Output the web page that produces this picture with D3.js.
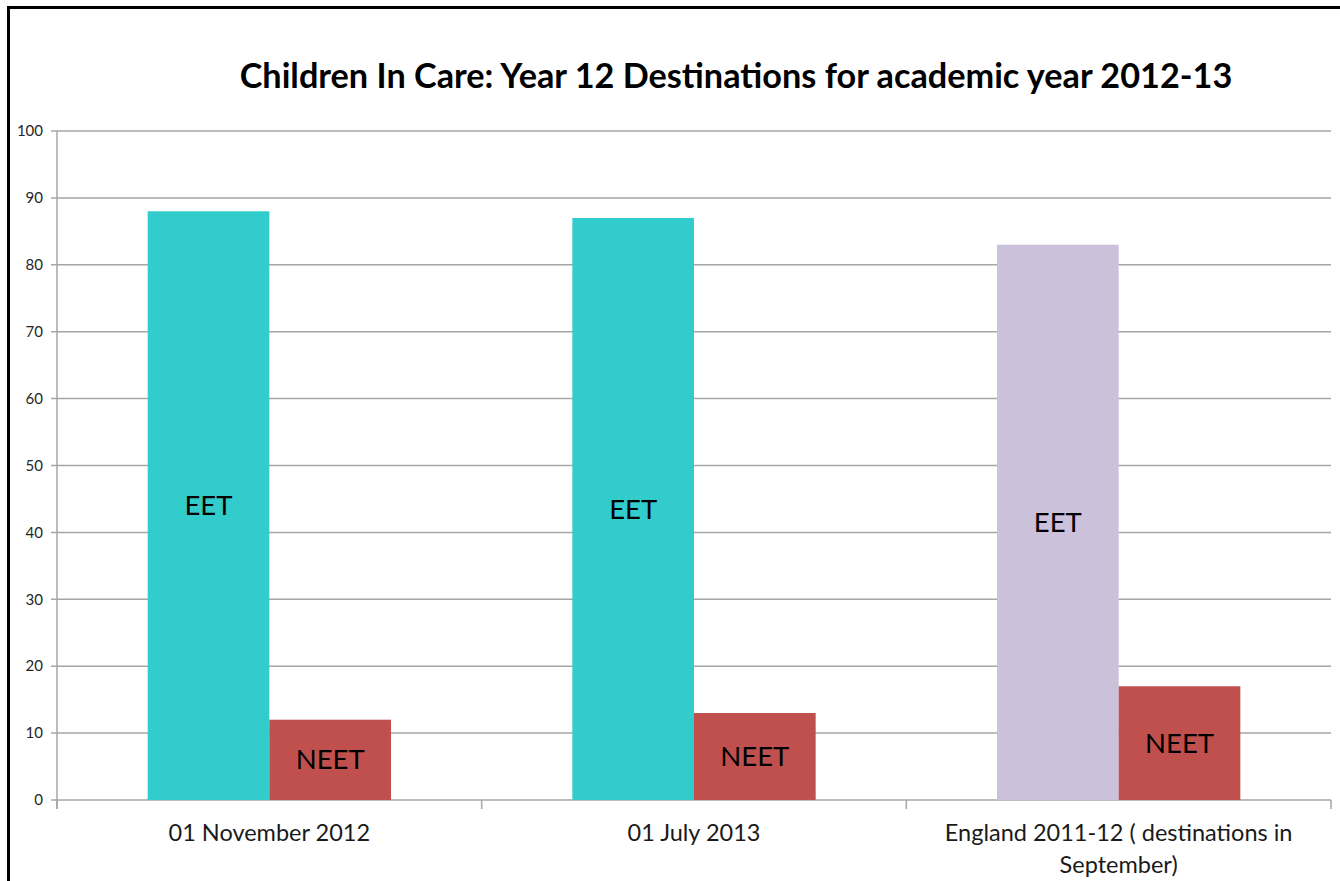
<!DOCTYPE html>
<html lang="en">
<head>
    <meta charset="UTF-8">
    <title>Children In Care: Year 12 Destinations</title>
    <script src="https://d3js.org/d3.v7.min.js"></script>
    <style>
        body { margin: 0; background: #fff; }
        text { font-family: Lato, "Open Sans", sans-serif; }
    </style>
</head>
<body>

<script>

    var width = 1340;
    var height = 881;

    // data
    var categories = ["01 November 2012", "01 July 2013", "England 2011-12 ( destinations in|September)"];
    var eetValues = [88, 87, 83];
    var neetValues = [12, 13, 17];
    var eetColors = ["#33CCCC", "#33CCCC", "#CCC1DA"];
    var yTicks = [0, 10, 20, 30, 40, 50, 60, 70, 80, 90, 100];
    var titleText = "Children In Care: Year 12 Destinations for academic year 2012-13";

    var margin = {left: 57, right: 9, top: 131, bottom: 81};

    var svg = d3.select("body")
        .append("svg")
        .attr("width", width)
        .attr("height", height);

    // outer frame
    svg.append("rect")
        .attr("x", 8.5).attr("y", 7.5)
        .attr("width", width + 10).attr("height", height + 10)
        .attr("fill", "none")
        .attr("stroke", "#000")
        .attr("stroke-width", 3);

    var xScale = d3.scaleBand()
        .domain(d3.range(categories.length))
        .range([margin.left, width - margin.right]);

    var yScale = d3.scaleLinear()
        .domain([0, 100])
        .range([height - margin.bottom, margin.top]);

    var bw = xScale.bandwidth() * 0.2865;
    var pad = (xScale.bandwidth() - 2 * bw) / 2;

    // gridlines
    svg.selectAll("line.grid").data(yTicks).enter().append("line")
        .attr("class", "grid")
        .attr("x1", margin.left - 6)
        .attr("x2", width - margin.right)
        .attr("y1", function (d) { return yScale(d); })
        .attr("y2", function (d) { return yScale(d); })
        .attr("stroke", "#a6a6a6")
        .attr("stroke-width", 1.5);

    // y axis line
    svg.append("line")
        .attr("x1", margin.left).attr("x2", margin.left)
        .attr("y1", yScale(100)).attr("y2", yScale(0) + 9)
        .attr("stroke", "#a6a6a6").attr("stroke-width", 1.5);

    // x category ticks
    var bounds = d3.range(categories.length + 1).map(function (i) {
        return margin.left + i * xScale.step();
    });
    svg.selectAll("line.xtick").data(bounds).enter().append("line")
        .attr("x1", function (d) { return d; })
        .attr("x2", function (d) { return d; })
        .attr("y1", yScale(0))
        .attr("y2", yScale(0) + 9)
        .attr("stroke", "#a6a6a6").attr("stroke-width", 1.5);

    // y tick labels
    svg.selectAll("text.ytick").data(yTicks).enter().append("text")
        .attr("x", 43)
        .attr("y", function (d) { return yScale(d); })
        .attr("dy", "0.35em")
        .attr("text-anchor", "end")
        .attr("font-size", 15)
        .attr("fill", "#262626")
        .text(function (d) { return d; });

    // bars
    svg.selectAll("rect.eet").data(eetValues).enter().append("rect")
        .attr("x", function (d, i) { return xScale(i) + pad; })
        .attr("y", function (d) { return yScale(d); })
        .attr("width", bw)
        .attr("height", function (d) { return yScale(0) - yScale(d); })
        .attr("fill", function (d, i) { return eetColors[i]; });

    svg.selectAll("rect.neet").data(neetValues).enter().append("rect")
        .attr("x", function (d, i) { return xScale(i) + pad + bw; })
        .attr("y", function (d) { return yScale(d); })
        .attr("width", bw)
        .attr("height", function (d) { return yScale(0) - yScale(d); })
        .attr("fill", "#C0504D");

    // bar labels
    svg.selectAll("text.eetlab").data(eetValues).enter().append("text")
        .attr("x", function (d, i) { return xScale(i) + pad + bw / 2; })
        .attr("y", function (d) { return yScale(d / 2); })
        .attr("dy", "0.35em")
        .attr("text-anchor", "middle")
        .attr("font-size", 27.5)
        .attr("fill", "#000")
        .text("EET");

    svg.selectAll("text.neetlab").data(neetValues).enter().append("text")
        .attr("x", function (d, i) { return xScale(i) + pad + bw * 1.5; })
        .attr("y", function (d) { return yScale(d / 2); })
        .attr("dy", "0.35em")
        .attr("text-anchor", "middle")
        .attr("font-size", 27.5)
        .attr("fill", "#000")
        .text("NEET");

    // category labels
    categories.forEach(function (c, i) {
        var lines = c.split("|");
        var t = svg.append("text")
            .attr("text-anchor", "middle")
            .attr("font-size", 23.5)
            .attr("fill", "#1a1a1a");
        lines.forEach(function (l, j) {
            t.append("tspan")
                .attr("x", xScale(i) + xScale.bandwidth() / 2)
                .attr("y", 841 + j * 32)
                .text(l);
        });
    });

    // title
    var title = svg.append("text")
        .attr("x", 736)
        .attr("y", 88)
        .attr("text-anchor", "middle")
        .attr("font-size", 30)
        .attr("font-weight", "bold")
        .attr("fill", "#000")
        .text(titleText);
    var tw = title.node().getComputedTextLength();
    title.attr("font-size", 30 * 993 / tw);

</script>

</body>
</html>
